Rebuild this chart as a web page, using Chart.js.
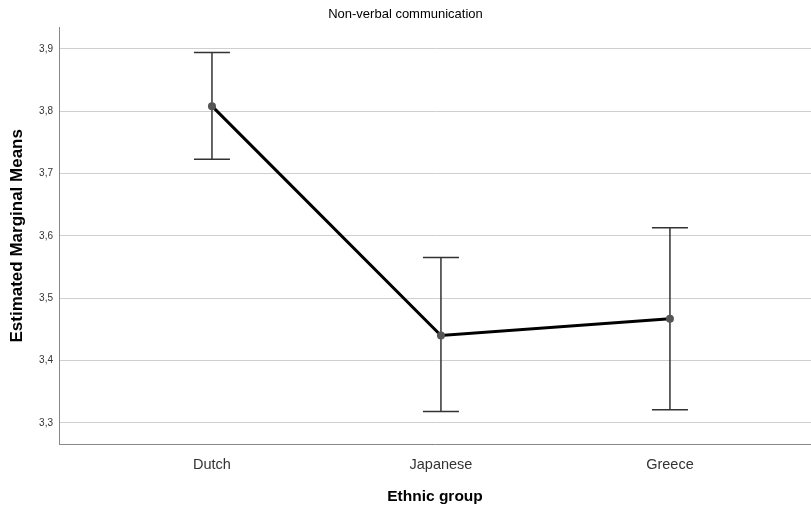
<!DOCTYPE html>
<html>
<head>
<meta charset="utf-8">
<script src="https://cdn.jsdelivr.net/npm/chart.js@4/dist/chart.umd.min.js"></script>
<style>
  html, body { margin: 0; padding: 0; background: #fff; }
  #wrap { width: 811px; height: 508px; }
</style>
</head>
<body>
<div id="wrap"><canvas id="chart" width="811" height="508"></canvas></div>
<script>
// data
const groups = ['Dutch', 'Japanese', 'Greece'];
const means = [3.808, 3.440, 3.467];
const upper = [3.894, 3.565, 3.613];
const lower = [3.723, 3.318, 3.321];
const yTicks = [3.3, 3.4, 3.5, 3.6, 3.7, 3.8, 3.9];

// error bars drawn from the arrays above through the chart scales
const errorBars = {
    id: 'errorBars',
    beforeDatasetsDraw(chart) {
        const c = chart.ctx;
        const xs = chart.scales.x;
        const ys = chart.scales.y;
        c.save();
        c.strokeStyle = '#333';
        c.lineWidth = 1.5;
        groups.forEach((g, i) => {
            const px = xs.getPixelForValue(i);
            const top = ys.getPixelForValue(upper[i]);
            const bot = ys.getPixelForValue(lower[i]);
            c.beginPath();
            c.moveTo(px, top); c.lineTo(px, bot);
            c.moveTo(px - 18, top); c.lineTo(px + 18, top);
            c.moveTo(px - 18, bot); c.lineTo(px + 18, bot);
            c.stroke();
        });
        c.restore();
    }
};

const ctx = document.getElementById('chart').getContext('2d');
const chart = new Chart(ctx, {
    type: 'line',
    data: {
        datasets: [{
            label: 'Non-verbal communication',
            data: means.map((m, i) => ({ x: i, y: m })),
            borderColor: '#000',
            borderWidth: 3,
            pointRadius: 4,
            pointBackgroundColor: '#555',
            pointBorderColor: '#555',
            pointBorderWidth: 0,
            tension: 0
        }]
    },
    options: {
        responsive: false,
        animation: false,
        layout: { padding: 0, autoPadding: false },
        plugins: {
            legend: { display: false },
            tooltip: { enabled: false },
            title: {
                display: true,
                text: 'Non-verbal communication',
                color: '#000',
                font: { family: 'Liberation Sans, Arial', size: 13, weight: 'normal' },
                padding: { top: 7, bottom: 5 }
            }
        },
        scales: {
            x: {
                type: 'linear',
                min: -0.668,
                max: 2.616,
                grid: { display: false },
                border: { display: true, color: '#888', width: 1 },
                ticks: {
                    stepSize: 1,
                    includeBounds: false,
                    color: '#333',
                    padding: 4,
                    font: { family: 'Liberation Sans, Arial', size: 14.5 },
                    callback: v => groups[v] !== undefined ? groups[v] : ''
                },
                title: {
                    display: true,
                    text: 'Ethnic group',
                    color: '#000',
                    font: { family: 'Liberation Sans, Arial', size: 15.5, weight: 'bold' },
                    padding: { top: 10, bottom: 2 }
                },
                afterFit(s) { s.height = 64; s.paddingLeft = 0; s.paddingRight = 0; }
            },
            y: {
                min: 3.266,
                max: 3.934,
                grid: { color: '#cfcfcf', lineWidth: 1, drawTicks: false },
                border: { display: true, color: '#888', width: 1 },
                ticks: {
                    stepSize: 0.1,
                    includeBounds: false,
                    color: '#333',
                    padding: 6,
                    font: { family: 'Liberation Sans, Arial', size: 10 },
                    callback: v => {
                        const t = yTicks.find(k => Math.abs(k - v) < 1e-6);
                        return t !== undefined ? t.toFixed(1).replace('.', ',') : '';
                    }
                },
                title: {
                    display: true,
                    text: 'Estimated Marginal Means',
                    color: '#000',
                    font: { family: 'Liberation Sans, Arial', size: 17, weight: 'bold' },
                    padding: { top: 7, bottom: 0 }
                },
                afterFit(s) { s.width = 59; s.paddingTop = 0; s.paddingBottom = 0; }
            }
        }
    },
    plugins: [errorBars]
});
</script>
</body>
</html>
